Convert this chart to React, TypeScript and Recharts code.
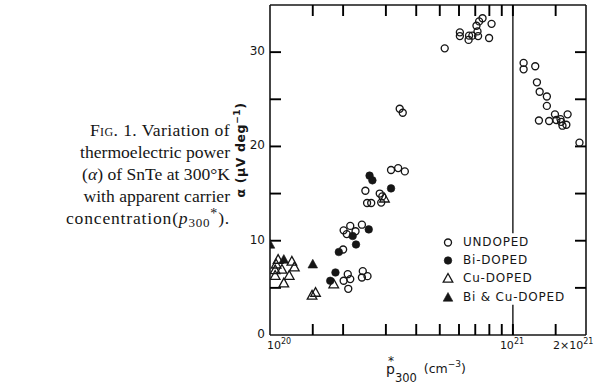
import React from "react";
import { ScatterChart, Scatter, XAxis, YAxis, ReferenceLine, Legend, Label } from "recharts";

// p*300 in units of 1e20 cm^-3, alpha in uV/deg
const undoped: [number, number][] = [
  [2.01, 5.75], [2.09, 6.45], [2.14, 5.93], [2.1, 4.9], [2.41, 6.77], [2.52, 6.24], [2.39, 6.1],
  [2.0, 9.07], [2.01, 11.1], [2.14, 11.57], [2.25, 11.0], [2.39, 11.7], [2.07, 10.7],
  [2.47, 15.3], [2.83, 15.0], [2.9, 14.7], [2.51, 14.0], [2.61, 14.0], [2.87, 14.04],
  [3.15, 17.5], [3.37, 17.7], [3.59, 17.35], [3.42, 24.0], [3.52, 23.57],
  [5.24, 30.4], [6.05, 32.1], [6.05, 31.7], [6.6, 31.75], [6.57, 31.3], [6.81, 31.75],
  [7.15, 32.2], [7.19, 31.7], [7.08, 32.8], [7.26, 33.26], [7.5, 33.6], [8.17, 33.0], [7.98, 31.5],
  [11.07, 28.86], [11.07, 28.18], [12.36, 28.5], [12.56, 26.8], [12.89, 25.8], [13.8, 25.3],
  [13.8, 24.3], [12.8, 22.75], [14.1, 22.7], [14.9, 23.4], [15.1, 22.8], [15.7, 22.9],
  [15.8, 22.6], [16.0, 22.2], [16.6, 22.3], [16.8, 23.4], [18.8, 20.4],
];
const biDoped: [number, number][] = [
  [1.77, 5.75], [1.86, 6.63], [1.92, 8.8], [2.19, 10.5], [2.26, 9.6], [2.55, 11.2],
  [2.57, 16.9], [2.64, 16.4], [3.15, 15.55],
];
const cuDoped: [number, number][] = [
  [1.08, 8.0], [1.06, 7.5], [1.05, 6.9], [1.12, 6.95], [1.05, 6.3], [1.2, 6.3], [1.14, 5.5],
  [1.23, 7.8], [1.26, 7.2], [1.49, 4.2], [1.54, 4.5], [1.83, 5.4], [2.96, 14.5],
];
const biCuDoped: [number, number][] = [
  [1.0, 9.6], [1.14, 8.0], [1.5, 7.5],
];

const xTicks = [1, 1.5, 2, 3, 4, 5, 6, 7, 8, 9, 10, 15, 20];
const yTicks = [0, 5, 10, 15, 20, 25, 30, 35];
const yLabels = [0, 10, 20, 30];
const names = ["UNDOPED", "Bi-DOPED", "Cu-DOPED", "Bi & Cu-DOPED"];

const X_MIN = 1;
const X_MAX = 20;
const Y_MAX = 35;

const INK = "#161616";
const AXIS_FONT = "'DejaVu Sans', sans-serif";

const toPoints = (arr: [number, number][]) => arr.map(([p, a]) => ({ p, a }));

// tick marks are drawn as point series sitting on the frame
const innerX = xTicks.filter((v) => v > X_MIN && v < X_MAX);
const innerY = yTicks.filter((v) => v > 0 && v < Y_MAX);
const bottomTickPts = innerX.map((p) => ({ p, a: 0 }));
const topTickPts = innerX.map((p) => ({ p, a: Y_MAX }));
const leftTickPts = innerY.map((a) => ({ p: X_MIN, a }));
const rightTickPts = innerY.map((a) => ({ p: X_MAX, a }));

// side: which way the tick points into the plot
const tickMark = (side: "up" | "down" | "right" | "left") => (props: any) => {
  const { cx, cy } = props;
  if (cx == null || cy == null) return <g />;
  const len = 11;
  const w = 1.9;
  if (side === "up") return <rect x={cx - w / 2} y={cy - len} width={w} height={len} fill="#000" />;
  if (side === "down") return <rect x={cx - w / 2} y={cy} width={w} height={len} fill="#000" />;
  if (side === "right") return <rect x={cx} y={cy - w / 2} width={len} height={w} fill="#000" />;
  return <rect x={cx - len} y={cy - w / 2} width={len} height={w} fill="#000" />;
};

function Circle({ cx, cy, filled }: any) {
  return (
    <circle cx={cx} cy={cy} r={filled ? 3.8 : 3.5} fill={filled ? INK : "none"}
      stroke={INK} strokeWidth={filled ? 0.6 : 1.35} />
  );
}

function Tri({ cx, cy, filled }: any) {
  const pts = `${cx},${cy - 5} ${cx - 4.8},${cy + 3.7} ${cx + 4.8},${cy + 3.7}`;
  return <polygon points={pts} fill={filled ? INK : "none"} stroke={INK} strokeWidth={filled ? 0.6 : 1.3} />;
}

const shapes: Record<string, (p: any) => React.ReactElement> = {
  "UNDOPED": (p) => <Circle {...p} />,
  "Bi-DOPED": (p) => <Circle {...p} filled />,
  "Cu-DOPED": (p) => <Tri {...p} />,
  "Bi & Cu-DOPED": (p) => <Tri {...p} filled />,
};

// plot frame: left 270, right 586, top 5, bottom 335
const FRAME = { left: 270, right: 586, top: 5, bottom: 335 };
const axisLineStyle = { stroke: INK, strokeWidth: 1.6 };

function BottomLabel({ x, payload }: any) {
  const v = payload.value;
  const y = FRAME.bottom + 14;
  if (v === 1) {
    return (
      <text x={x - 3} y={y} fontSize={11} fontFamily={AXIS_FONT} fill={INK}>
        10<tspan dy={-5} fontSize={8}>20</tspan>
      </text>
    );
  }
  if (v === 10) {
    return (
      <text x={x - 13} y={y} fontSize={11} fontFamily={AXIS_FONT} fill={INK}>
        10<tspan dy={-5} fontSize={8}>21</tspan>
      </text>
    );
  }
  if (v === 20) {
    return (
      <text x={x - 33} y={y} fontSize={11} fontFamily={AXIS_FONT} fill={INK}>
        2×10<tspan dy={-5} fontSize={8}>21</tspan>
      </text>
    );
  }
  return <g />;
}

function LeftLabel({ y, payload }: any) {
  const v = payload.value;
  if (!yLabels.includes(v)) return <g />;
  return (
    <text x={FRAME.left - 5} y={y + 3} textAnchor="end" fontSize={12} fontFamily={AXIS_FONT} fill={INK}>
      {v}
    </text>
  );
}

function LegendBox({ payload }: any) {
  const items = (payload || [])
    .filter((e: any) => names.includes(e.value))
    .sort((a: any, b: any) => names.indexOf(a.value) - names.indexOf(b.value));
  return (
    <div style={{ fontFamily: AXIS_FONT, fontSize: 12, letterSpacing: 0.8, color: INK }}>
      {items.map((e: any) => (
        <div key={e.value} style={{ display: "flex", alignItems: "center", height: 18.2 }}>
          <svg width={14} height={14} style={{ marginRight: 8 }}>
            {shapes[e.value]({ cx: 7, cy: 7.5 })}
          </svg>
          <span>{e.value}</span>
        </div>
      ))}
    </div>
  );
}

function YTitle() {
  return (
    <text x={245} y={150} transform="rotate(-90, 245, 150)" textAnchor="middle"
      fontSize={12.5} fontWeight="bold" fontFamily={AXIS_FONT} fill={INK} letterSpacing={0.6}>
      α (μV deg<tspan dy={-5} fontSize={9}>−1</tspan><tspan dy={5}>)</tspan>
    </text>
  );
}

function XTitle() {
  return (
    <text x={386} y={374} fontSize={14} fontFamily={AXIS_FONT} fill={INK}>
      p<tspan dx={-7} dy={-9} fontSize={12}>*</tspan>
      <tspan dx={1} dy={17} fontSize={11.5}>300</tspan>
      <tspan dx={7} dy={-9} fontSize={12.5}>(cm</tspan>
      <tspan dy={-6} fontSize={9}>−3</tspan>
      <tspan dy={6} fontSize={12.5}>)</tspan>
    </text>
  );
}

const rel = (dy: number, size: number): React.CSSProperties => ({ position: "relative", top: dy, fontSize: size });

const captionLines = [
  <span style={{ letterSpacing: 0.4 }}><span style={{ fontVariant: "small-caps" }}>Fig.</span> 1. Variation of</span>,
  <>thermoelectric power</>,
  <>(<i>α</i>) of SnTe at 300°K</>,
  <>with apparent carrier</>,
  <span style={{ letterSpacing: 0.8 }}>concentration(<i>p</i><span style={rel(3, 13)}>300</span><span style={rel(-6, 14)}>*</span>).</span>,
];

export default function App() {
  return (
    <div style={{ position: "absolute", left: 0, top: 0, width: 600, height: 389, background: "#fff" }}>
      <div style={{
        position: "absolute", right: 600 - 230, top: 119, textAlign: "right",
        fontFamily: "'Liberation Serif', serif", fontSize: 17.6, lineHeight: "22px", color: INK,
        whiteSpace: "nowrap",
      }}>
        {captionLines.map((l, i) => <div key={i} style={{ height: 22 }}>{l}</div>)}
      </div>
      <ScatterChart width={600} height={389} margin={{ top: 4, right: 13, bottom: 24, left: 230 }}
        style={{ position: "absolute", left: 0, top: 0 }}>
        <XAxis type="number" dataKey="p" scale="log" domain={[X_MIN, X_MAX]} ticks={xTicks}
          allowDataOverflow height={30} tick={<BottomLabel />} stroke={INK}
          axisLine={axisLineStyle} tickLine={false} interval={0}>
          <Label content={<XTitle />} />
        </XAxis>
        <XAxis xAxisId="top" orientation="top" type="number" dataKey="p" scale="log" domain={[X_MIN, X_MAX]}
          ticks={xTicks} allowDataOverflow height={1} tick={false} stroke={INK}
          axisLine={axisLineStyle} tickLine={false} />
        <YAxis type="number" dataKey="a" domain={[0, Y_MAX]} ticks={yTicks} allowDataOverflow width={40}
          tick={<LeftLabel />} stroke={INK} axisLine={axisLineStyle} tickLine={false} interval={0}>
          <Label content={<YTitle />} />
        </YAxis>
        <YAxis yAxisId="right" orientation="right" type="number" dataKey="a" domain={[0, Y_MAX]} ticks={yTicks}
          allowDataOverflow width={1} tick={false} stroke={INK} axisLine={axisLineStyle} tickLine={false} />

        <ReferenceLine segment={[{ x: 10, y: Y_MAX }, { x: 10, y: 10.8 }]} stroke={INK} strokeWidth={1.4} />
        <ReferenceLine segment={[{ x: 10, y: 3.2 }, { x: 10, y: 0 }]} stroke={INK} strokeWidth={1.4} />

        <Scatter name="tb" data={bottomTickPts} shape={tickMark("up")} legendType="none" isAnimationActive={false} />
        <Scatter name="tt" data={topTickPts} shape={tickMark("down")} legendType="none" isAnimationActive={false} />
        <Scatter name="tl" data={leftTickPts} shape={tickMark("right")} legendType="none" isAnimationActive={false} />
        <Scatter name="tr" data={rightTickPts} shape={tickMark("left")} legendType="none" isAnimationActive={false} />

        <Scatter name={names[0]} data={toPoints(undoped)} shape={shapes[names[0]]} isAnimationActive={false} />
        <Scatter name={names[1]} data={toPoints(biDoped)} shape={shapes[names[1]]} isAnimationActive={false} />
        <Scatter name={names[2]} data={toPoints(cuDoped)} shape={shapes[names[2]]} isAnimationActive={false} />
        <Scatter name={names[3]} data={toPoints(biCuDoped)} shape={shapes[names[3]]} isAnimationActive={false} />
        <Legend layout="vertical" align="center" verticalAlign="middle" content={<LegendBox />}
          wrapperStyle={{ position: "absolute", left: 441, top: 233, width: "auto" }} />
      </ScatterChart>
    </div>
  );
}
